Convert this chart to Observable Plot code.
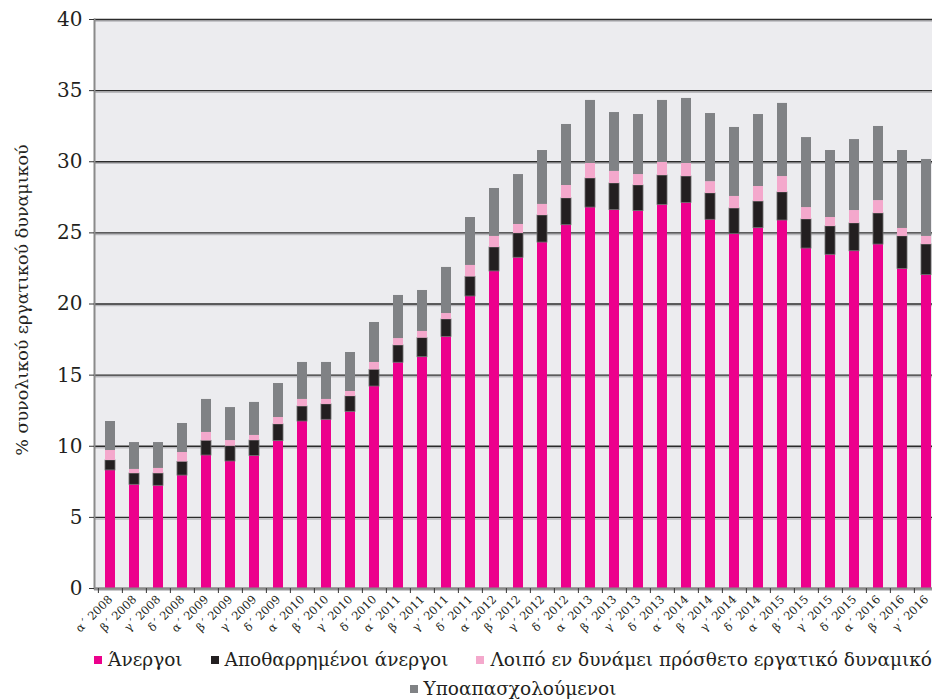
<!DOCTYPE html>
<html>
<head>
<meta charset="utf-8">
<script src="https://cdn.jsdelivr.net/npm/d3@7"></script>
<script src="https://cdn.jsdelivr.net/npm/@observablehq/plot@0.6"></script>
<style>
  html, body { margin: 0; padding: 0; background: #ffffff; width: 932px; height: 699px; overflow: hidden; }
  #chart { position: relative; width: 932px; }
  .legend { font-family: "DejaVu Serif", serif; font-size: 18.5px; color: #231F20; margin-left: 94px; width: 838px; }
  .legend .row { display: flex; justify-content: center; align-items: center; height: 29px; }
  .legend .item { display: flex; align-items: center; margin: 0 14px; white-space: nowrap; }
  .legend .sw { width: 8px; height: 8px; margin-right: 6px; display: inline-block; }
</style>
</head>
<body>
<div id="chart"></div>
<script>
const periods = [
  "α΄ 2008","β΄ 2008","γ΄ 2008","δ΄ 2008",
  "α΄ 2009","β΄ 2009","γ΄ 2009","δ΄ 2009",
  "α΄ 2010","β΄ 2010","γ΄ 2010","δ΄ 2010",
  "α΄ 2011","β΄ 2011","γ΄ 2011","δ΄ 2011",
  "α΄ 2012","β΄ 2012","γ΄ 2012","δ΄ 2012",
  "α΄ 2013","β΄ 2013","γ΄ 2013","δ΄ 2013",
  "α΄ 2014","β΄ 2014","γ΄ 2014","δ΄ 2014",
  "α΄ 2015","β΄ 2015","γ΄ 2015","δ΄ 2015",
  "α΄ 2016","β΄ 2016","γ΄ 2016"
];

const unemployed = [
  8.30, 7.29, 7.22, 7.94,
  9.35, 8.93, 9.32, 10.36,
  11.74, 11.86, 12.42, 14.20,
  15.87, 16.26, 17.69, 20.53,
  22.29, 23.25, 24.32, 25.54,
  26.78, 26.60, 26.53, 26.97,
  27.11, 25.92, 24.91, 25.33,
  25.87, 23.90, 23.46, 23.71,
  24.18, 22.47, 22.03
];

const discouraged = [
  0.70, 0.79, 0.86, 0.96,
  1.03, 1.07, 1.08, 1.17,
  1.05, 1.08, 1.08, 1.17,
  1.21, 1.34, 1.22, 1.38,
  1.68, 1.71, 1.90, 1.88,
  2.04, 1.87, 1.80, 2.06,
  1.85, 1.85, 1.80, 1.87,
  1.97, 2.04, 1.99, 1.95,
  2.18, 2.28, 2.15
];

const otherPotential = [
  0.70, 0.29, 0.36, 0.66,
  0.59, 0.40, 0.36, 0.49,
  0.50, 0.35, 0.35, 0.52,
  0.49, 0.47, 0.42, 0.80,
  0.78, 0.63, 0.78, 0.91,
  1.06, 0.85, 0.77, 0.92,
  0.92, 0.83, 0.85, 1.06,
  1.12, 0.84, 0.63, 0.91,
  0.91, 0.56, 0.57
];

const underemployed = [
  2.04, 1.89, 1.82, 2.04,
  2.32, 2.32, 2.32, 2.39,
  2.60, 2.60, 2.74, 2.81,
  3.03, 2.88, 3.24, 3.37,
  3.37, 3.51, 3.79, 4.29,
  4.43, 4.14, 4.22, 4.36,
  4.57, 4.79, 4.85, 5.06,
  5.14, 4.92, 4.71, 4.99,
  5.21, 5.48, 5.41
];

const seriesNames = [
  "Άνεργοι",
  "Αποθαρρημένοι άνεργοι",
  "Λοιπό εν δυνάμει πρόσθετο εργατικό δυναμικό",
  "Υποαπασχολούμενοι"
];
const seriesColors = ["#EC008C", "#231F20", "#F4A8CC", "#808285"];
const yTicks = [0, 5, 10, 15, 20, 25, 30, 35, 40];
const yLabel = "% συνολικού εργατικού δυναμικού";

const seriesValues = [unemployed, discouraged, otherPotential, underemployed];
const rows = periods.flatMap((p, i) =>
  seriesValues.map((arr, k) => ({ period: p, series: seriesNames[k], value: arr[i] }))
);

const W = 932, H = 645, ML = 94, MT = 19, MB = 57;
const xRange = [ML, 942];
const step = (xRange[1] - xRange[0]) / periods.length;

const plot = Plot.plot({
  width: W,
  height: H,
  marginLeft: ML,
  marginRight: 0,
  marginTop: MT,
  marginBottom: MB,
  style: { fontFamily: "DejaVu Serif, serif", color: "#231F20", background: "transparent" },
  x: { type: "band", domain: periods, range: xRange, paddingInner: 0.59, paddingOuter: 0.295, axis: null },
  y: { domain: [0, 40], axis: null },
  color: { domain: seriesNames, range: seriesColors },
  marks: [
    Plot.frame({ fill: "#ECECEF", stroke: null }),
    Plot.ruleY(yTicks, { stroke: "#b9b9bd", strokeWidth: 1.5, dy: 1.5 }),
    Plot.ruleY(yTicks, { stroke: "#2b2b2b", strokeWidth: 1.3 }),
    Plot.barY(rows, {
      x: "period", y: "value", fill: "series",
      stroke: d => d.series === seriesNames[1] ? "#6b6b6b" : "none",
      strokeWidth: 0.8
    }),
    Plot.frame({ anchor: "left", stroke: "#8a8a8a", strokeWidth: 2 }),
    Plot.ruleY([0], { stroke: "#8a8a8a", strokeWidth: 2 }),
    Plot.axisY({ ticks: yTicks, tickSize: 5, tickPadding: 7, fontSize: 20, label: null, stroke: "#333" }),
    Plot.axisX({ tickSize: 5, tickFormat: () => "", dx: -step / 2, label: null, stroke: "#333" }),
    Plot.axisX({ tickSize: 0, tickRotate: -45, tickPadding: 9, fontSize: 11.5, label: null }),
    Plot.text([yLabel], { frameAnchor: "left", textAnchor: "middle", dx: -72, dy: -4, rotate: -90, fontSize: 17.5, fill: "#231F20" })
  ]
});

const chart = document.getElementById("chart");
chart.appendChild(plot);

const legend = document.createElement("div");
legend.className = "legend";
const rowsSpec = [seriesNames.slice(0, 3), seriesNames.slice(3)];
rowsSpec.forEach(names => {
  const r = document.createElement("div");
  r.className = "row";
  names.forEach(n => {
    const it = document.createElement("span");
    it.className = "item";
    const sw = document.createElement("span");
    sw.className = "sw";
    sw.style.background = seriesColors[seriesNames.indexOf(n)];
    it.appendChild(sw);
    it.appendChild(document.createTextNode(n));
    r.appendChild(it);
  });
  legend.appendChild(r);
});
chart.appendChild(legend);
</script>
</body>
</html>
